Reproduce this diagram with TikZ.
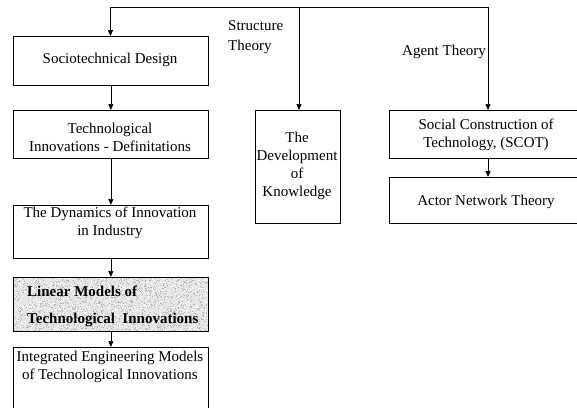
\documentclass[tikz,border=0pt]{standalone}
\usepackage{fontspec}
\setmainfont{Liberation Serif}
\usetikzlibrary{arrows.meta}
\begin{document}
\begin{tikzpicture}[x=1pt,y=-1pt,
  box/.style={draw,line width=0.7pt,inner sep=0pt,anchor=north west},
  txt/.style={font=\fontsize{15}{18}\selectfont,align=center,inner sep=0pt},
  arr/.style={draw,line width=0.7pt,-{Triangle[length=6pt,width=5pt]}},
  ln/.style={draw,line width=0.7pt}]
\clip (0,0) rectangle (577,407);
\fill[white] (0,0) rectangle (577,407);

% left column
\node[box,minimum width=195pt,minimum height=49pt] (sd) at (13,36) {};
\node[box,minimum width=195pt,minimum height=48pt] (tid) at (13,110) {};
\node[box,minimum width=195pt,minimum height=53pt] (dyn) at (13,205) {};
\node[box,minimum width=195pt,minimum height=54pt,fill=gray!20] (lin) at (13,277) {};
\node[box,minimum width=195pt,minimum height=90pt] (ieng) at (13,347) {};

% stipple texture of the highlighted box
\begin{scope}
  \clip (lin.south west) rectangle (lin.north east);
  \pgfmathsetseed{17}
  \foreach \i in {1,...,1500} {
    \pgfmathsetmacro\rx{13+195*rnd}
    \pgfmathsetmacro\ry{277+54*rnd}
    \fill[gray!60] (\rx,\ry) rectangle ++(0.8,0.8);
  }
  \foreach \i in {1,...,900} {
    \pgfmathsetmacro\rx{13+195*rnd}
    \pgfmathsetmacro\ry{277+54*rnd}
    \fill[white] (\rx,\ry) rectangle ++(0.8,0.8);
  }
\end{scope}
\draw[line width=0.7pt] (lin.south west) rectangle (lin.north east);

% middle and right columns
\node[box,minimum width=85pt,minimum height=113pt] (dev) at (255,110) {};
\node[box,minimum width=230pt,minimum height=48pt] (scot) at (389,110) {};
\node[box,minimum width=230pt,minimum height=46pt] (ant) at (389,177) {};

% top distribution line
\coordinate (tl) at (110.5,7);
\coordinate (ts) at (299,7);
\coordinate (tr) at (488,7);
\draw[ln] (tl) -- (tr);
\draw[arr] (tl) -- (tl |- sd.north);
\draw[arr] (ts) -- (ts |- dev.north);
\draw[arr] (tr) -- (tr |- scot.north);

% chain arrows
\draw[arr] (sd.south) -- (tid.north);
\draw[arr] (tid.south) -- (dyn.north);
\draw[arr] (dyn.south) -- (lin.north);
\draw[arr] (lin.south) -- (ieng.north);
\draw[arr] (tr |- scot.south) -- (tr |- ant.north);

% texts
\node[txt] (tsd) at (110,60) {Sociotechnical Design};
\node[txt] (ttid) at (110,137) {Technological\\Innovations - Definitations};
\node[txt] (tdyn) at (110,223) {The Dynamics of Innovation\\in Industry};
\node[txt,font=\fontsize{15}{18}\selectfont\bfseries,anchor=base west] (tlin1) at (27,296) {Linear Models of};
\node[txt,font=\fontsize{15}{18}\selectfont\bfseries,anchor=base west] (tlin2) at (27,323) {Technological\ \ Innovations};
\node[txt] (tieng) at (110,367) {Integrated Engineering Models\\of Technological Innovations};
\node[txt] (tdev) at (297,166) {The\\Development\\of\\Knowledge};
\node[txt] (tscot) at (486,135) {Social Construction of\\Technology, (SCOT)};
\node[txt] (tant) at (486,202) {Actor Network Theory};
\node[txt,align=left,font=\fontsize{15}{20}\selectfont,anchor=base west] (lst) at (228,50) {Structure\\Theory};
\node[txt,anchor=base west] (lag) at (402,55) {Agent Theory};
\end{tikzpicture}
\end{document}
